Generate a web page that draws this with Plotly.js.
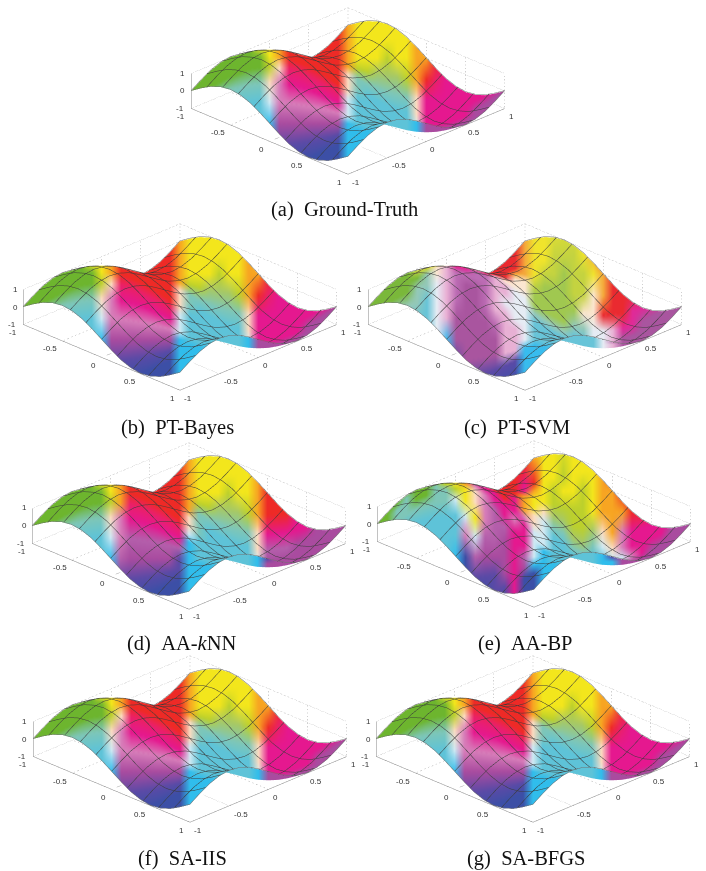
<!DOCTYPE html>
<html>
<head>
<meta charset="utf-8">
<script src="https://cdn.plot.ly/plotly-3.0.1.min.js"></script>
<style>html,body{margin:0;padding:0;background:#fff}#chart{width:706px;height:871px;filter:blur(0.45px)}</style>
</head>
<body>
<div id="chart"></div>
<script>
const gridX = [-1,-0.875,-0.75,-0.625,-0.5,-0.375,-0.25,-0.125,0,0.125,0.25,0.375,0.5,0.625,0.75,0.875,1];
const gridY = [-1,-0.875,-0.75,-0.625,-0.5,-0.375,-0.25,-0.125,0,0.125,0.25,0.375,0.5,0.625,0.75,0.875,1];
const surfaceZ = [
[0,.38,.71,.92,1,.92,.71,.38,0,-.38,-.71,-.92,-1,-.92,-.71,-.38,0],
[.38,.76,1.09,1.30,1.38,1.30,1.09,.76,.38,0,-.33,-.54,-.62,-.54,-.33,0,.38],
[.71,1.09,1.42,1.63,1.71,1.63,1.42,1.09,.71,.33,0,-.21,-.29,-.21,0,.33,.71],
[.92,1.30,1.63,1.84,1.92,1.84,1.63,1.30,.92,.54,.21,0,-.08,0,.21,.54,.92],
[1,1.38,1.71,1.92,2,1.92,1.71,1.38,1,.62,.29,.08,0,.08,.29,.62,1],
[.92,1.30,1.63,1.84,1.92,1.84,1.63,1.30,.92,.54,.21,0,-.08,0,.21,.54,.92],
[.71,1.09,1.42,1.63,1.71,1.63,1.42,1.09,.71,.33,0,-.21,-.29,-.21,0,.33,.71],
[.38,.76,1.09,1.30,1.38,1.30,1.09,.76,.38,0,-.33,-.54,-.62,-.54,-.33,0,.38],
[0,.38,.71,.92,1,.92,.71,.38,0,-.38,-.71,-.92,-1,-.92,-.71,-.38,0],
[-.38,0,.33,.54,.62,.54,.33,0,-.38,-.76,-1.09,-1.30,-1.38,-1.30,-1.09,-.76,-.38],
[-.71,-.33,0,.21,.29,.21,0,-.33,-.71,-1.09,-1.42,-1.63,-1.71,-1.63,-1.42,-1.09,-.71],
[-.92,-.54,-.21,0,.08,0,-.21,-.54,-.92,-1.30,-1.63,-1.84,-1.92,-1.84,-1.63,-1.30,-.92],
[-1,-.62,-.29,-.08,0,-.08,-.29,-.62,-1,-1.38,-1.71,-1.92,-2,-1.92,-1.71,-1.38,-1],
[-.92,-.54,-.21,0,.08,0,-.21,-.54,-.92,-1.30,-1.63,-1.84,-1.92,-1.84,-1.63,-1.30,-.92],
[-.71,-.33,0,.21,.29,.21,0,-.33,-.71,-1.09,-1.42,-1.63,-1.71,-1.63,-1.42,-1.09,-.71],
[-.38,0,.33,.54,.62,.54,.33,0,-.38,-.76,-1.09,-1.30,-1.38,-1.30,-1.09,-.76,-.38],
[0,.38,.71,.92,1,.92,.71,.38,0,-.38,-.71,-.92,-1,-.92,-.71,-.38,0]
];
const meshLines = [-1,-0.8,-0.6,-0.4,-0.2,0,0.2,0.4,0.6,0.8,1];

// Colour tables: one row per level of (x-y), one column per 1/8 step of (x+y) from -2 to 2
const colorLevels = [-2,-1.25,-1,-0.75,-0.5,-0.25,0,0.25,0.5,0.75,1,1.25,1.5,2];
const colorsTruth = [
"GGGGGGGGRRRRRRRROYYYYYYYYYYYYYYYY",
"GGGGGGGYORRRRRRROYYYYYYOORRRRRRRR",
"GGGGGGGYORRRRRRROYYYLYYOORRRRRRRR",
"GGGGGGGYORRRRRRROLLSSSLORNMMMMMMM",
"GGGGGGGLYORRRRRREAAAAAAEMMMMMMMMM",
"GGGGGGGLYORRRRRREATTTTTEMMMMMMMMM",
"GGGGGGGGYORRRRRRETTTTTTWMMMMMPPPP",
"GGGGGGGGLENNNNNNWTTTTTTWMPPPPPPPP",
"AAAAAAAAEKMMMMMMWTTTTTTCPPPPPPPPP",
"TTTTTTTTWKKKKKKKWTTTTTTCPPPPPPPPP",
"TTTTTTTTCPPPPPPPCTTTTTTCPPPPPPPPP",
"TTTTTTTTCUUUUUUUCCTTTTTCPPPPPPPPP",
"TTTTTTTTCBBBBBBBCCCTTTTCPPPPPPPPP",
"TTTTTTTTCBBBBBBBCCCCCCCCPPPPPPPPP"];
const colorsSVM = [
"GGGGGGGGRRRRRRRROYYYYYYYYYYYYYYYY",
"GGGGGGGYORRRRRRROYYLLLYORRRRRRRRR",
"GGGGGYYYORRRRRROOYLLSLLYORRRRRRRR",
"GGGGGYYYORRRRRREELSSSLLEORRRRRRRR",
"GGGGGLYYENNNNKEEESSSSSEERRRMMMMMM",
"GGGGGLLEKMMVVKKWWSSSSAAWWKMMPPPPP",
"GGGGGGAEKVVVVKKWWAAAATTWWKPPPPPPP",
"GGGGGAAWKVPPVKWWWTTTTTTWWKPPPPPPP",
"AAAAAATWKVPPVKKWWTTTTTTTWKPPPPPPP",
"TTTTTTTWKPPPPVKKWTTTTTTTWKPPPPPPP",
"TTTTTTTWCPPPPPKKWTTTTTTTWPPPPPPPP",
"TTTTTTTWCUPPPPKKCCTTTTTTWPPPPPPPP",
"TTTTTTTWCBUUUUUUCCCTTTTTTPPPPPPPP",
"TTTTTTTWCBBBBBBBCCCCCCCCCPPPPPPPP"];
const colorsKNN = [
"GGGGGGGGRRRRRRRROYYYYYYYYYYYYYYYY",
"GGGGGGGYORRRRRRROYYYYYYORRRRRRRRR",
"GGGGGGGYORRRRRRROYYYLYYORRRRRRRRR",
"GGGGGGGYORRRRRRROLLSSSLORRRMMMMMM",
"GGGGGGGLYORRRRRROAAAAAAEMMMMMPPPP",
"GGGGGGGLYORRRRRREATTTTTEVVVPPPPPP",
"GGGGGGGGYORRRRRREATTTTTWPPPPPPPPP",
"GGGGGGGGLONNNNNNWTTTTTTCPPPPPPPPP",
"AAAAAAAAEKMMMMMMCTTTTTTCPPPPPPPPP",
"TTTTTTTTWKVVVVVVCTTTTTTCPPPPPPPPP",
"TTTTTTTTCVPPPPPUCTTTTTTCUPPPPPPPP",
"TTTTTTTTCUUUUUUUCCTTTTTCUPPPPPPPP",
"TTTTTTTTCBBBBBBBCCCTTTTCUPPPPPPPP",
"TTTTTTTTCBBBBBBBCCCCCCCCUPPPPPPPP"];
const colorsBP = [
"GGGGGGGGMRRRMRRROYYYYYYYYYYYYYYYY",
"GGGGGGGYOMMRRRRMRYYLYYYORRRRRRRRR",
"GGGGGGGYOMMRRRRMOYLYYLYOORRRRRRRR",
"GGGGGGAYYMMRRRROYYLLLLYOOORRRMMMM",
"GGAGGGGLYOMMRRMOYESSLLSEOKMMMMMMM",
"GGGAGGALYOKMMRMOEWAASSAWEKMMMMPPP",
"GGAAGGAALYEKMMMKEWTTAATTWWKMPPPPP",
"AGAAAAAAWYEKVMKMWWTTTTTTWKPPPPPPP",
"TAATTTTTTWYKVVMMWWTTTTTCCPPPPPPPP",
"TTTTTTTTTKWVVPMMWCTTTTTCCPPPPPPPP",
"TTTTTTTTCBVPPPMVWCTTTTTCUPPPPPPPP",
"TTTTTTTTCBUUUPMPCCTTTTTCUPPPPPPPP",
"TTTTTTTTCBBBUUMBBCCTTTTCUPPPPPPPP",
"TTTTTTTTCBBBBBMBBCCCCCCCUPPPPPPPP"];

const paletteVivid = {G:"#6db52e",L:"#bcd02c",Y:"#f3e61c",O:"#f7a522",R:"#ee2a26",M:"#e5188f",K:"#d77db9",P:"#a94b9f",B:"#3c4fa6",C:"#30bdec",T:"#5ec3d8",W:"#cfe9f3",E:"#fbdcc0",A:"#7ec6b8",S:"#a5c868",N:"#ea2068",V:"#b45fab",U:"#5b4aa6"};
const paletteSoft  = {G:"#7ab83a",L:"#c4d340",Y:"#f0e42c",O:"#f4a93a",R:"#ea2a30",M:"#e02a98",K:"#e8b0d4",P:"#a9559f",B:"#3c50aa",C:"#38bcee",T:"#68c4d8",W:"#e6ecf4",E:"#fbe6d0",A:"#94c8b8",S:"#a0c850",N:"#e83070",V:"#bc6cb4",U:"#5b4aa6"};

const tickVals = [-1,-0.5,0,0.5,1];
const tickText = ["-1","-0.5","0","0.5","1"];
const zTickVals = [-1,0,1];
const zTickText = ["-1","0","1"];

const panelCaptions = ["(a)\u2002Ground-Truth","(b)\u2002PT-Bayes","(c)\u2002PT-SVM","(d)\u2002AA-<i>k</i>NN","(e)\u2002AA-BP","(f)\u2002SA-IIS","(g)\u2002SA-BFGS"];
const panelColors = [colorsTruth,colorsTruth,colorsSVM,colorsKNN,colorsBP,colorsTruth,colorsTruth];
const panelPalettes = [paletteVivid,paletteVivid,paletteSoft,paletteVivid,paletteVivid,paletteVivid,paletteVivid];
const panelCenterX = [347.5,180,524.6,189.2,534,189.7,532.8];
const panelCenterY = [91,307,307,525.5,524.4,739.4,739.4];
const captionX = [344,177,517,182,525,182,525.5];
const captionY = [210,427,427,643,643,858,858];

const W=706,H=871,SW=344,SH=182;
const EYE=3;
const ZR=2.2;
const ASPECT=2.436;
const SUB=4;
const LINE_LIFT=0.03;

function hex(h){return [parseInt(h.slice(1,3),16),parseInt(h.slice(3,5),16),parseInt(h.slice(5,7),16)];}
function zAt(x,y){
  const fx=Math.min(15.999,(x+1)*8),fy=Math.min(15.999,(y+1)*8);
  const i=Math.floor(fx),j=Math.floor(fy),u=fx-i,v=fy-j;
  return (1-v)*((1-u)*surfaceZ[j][i]+u*surfaceZ[j][i+1])+v*((1-u)*surfaceZ[j+1][i]+u*surfaceZ[j+1][i+1]);
}
function colorAt(table,pal,x,y){
  const s=x+y,d=x-y;
  const fn=Math.min(31.999,(s+2)*8),n=Math.floor(fn),u=fn-n;
  let r=0;while(r<colorLevels.length-2&&d>colorLevels[r+1])r++;
  const v=(d-colorLevels[r])/(colorLevels[r+1]-colorLevels[r]);
  const a=hex(pal[table[r][n]]),b=hex(pal[table[r][n+1]]),c=hex(pal[table[r+1][n]]),e=hex(pal[table[r+1][n+1]]);
  const m=[0,1,2].map(k=>Math.round((1-v)*((1-u)*a[k]+u*b[k])+v*((1-u)*c[k]+u*e[k])));
  return "rgb("+m.join(",")+")";
}
function lineTrace(scene,xs,ys,zs,color,dash,width){
  return {type:"scatter3d",mode:"lines",scene,x:xs,y:ys,z:zs,hoverinfo:"skip",showlegend:false,
    line:{color,width:width||1,dash:dash||"solid"}};
}

const data=[],layout={width:W,height:H,margin:{l:0,r:0,t:0,b:0},paper_bgcolor:"#fff",showlegend:false,annotations:[]};
const fine=[];for(let q=0;q<=16*SUB;q++)fine.push(-1+q/(8*SUB));

panelCaptions.forEach((cap,p)=>{
  const scene=p===0?"scene":"scene"+(p+1);
  const vx=[],vy=[],vz=[],vc=[],ti=[],tj=[],tk=[];
  const nf=fine.length;
  for(let j=0;j<nf;j++)for(let i=0;i<nf;i++){
    vx.push(fine[i]);vy.push(fine[j]);vz.push(zAt(fine[i],fine[j]));
    vc.push(colorAt(panelColors[p],panelPalettes[p],fine[i],fine[j]));
  }
  for(let j=0;j<nf-1;j++)for(let i=0;i<nf-1;i++){
    const a=j*nf+i,b=a+1,c=a+nf,d=c+1;
    ti.push(a,b);tj.push(b,d);tk.push(c,c);
  }
  data.push({type:"mesh3d",scene,x:vx,y:vy,z:vz,i:ti,j:tj,k:tk,vertexcolor:vc,hoverinfo:"skip",showscale:false,
    flatshading:false,lighting:{ambient:1,diffuse:0,specular:0,roughness:1,fresnel:0}});
  meshLines.forEach(c=>{
    const col=Math.abs(c)===1?"#707070":"#3a3a3a";
    data.push(lineTrace(scene,fine,fine.map(()=>c),fine.map(t=>zAt(t,c)+LINE_LIFT),col));
    data.push(lineTrace(scene,fine.map(()=>c),fine,fine.map(t=>zAt(c,t)+LINE_LIFT),col));
  });
  const G="#a0a0a0",A="#858585";
  tickVals.forEach(v=>{
    data.push(lineTrace(scene,[-1,-1],[v,v],[-1,1],G,"dot"));
    data.push(lineTrace(scene,[v,v],[1,1],[-1,1],G,"dot"));
  });
  zTickVals.forEach(v=>{
    data.push(lineTrace(scene,[-1,-1],[-1,1],[v,v],G,"dot"));
    data.push(lineTrace(scene,[-1,1],[1,1],[v,v],G,"dot"));
  });
  data.push(lineTrace(scene,[-0.5,-0.5],[-1,-0.5],[-1,-1],G,"dot"));
  data.push(lineTrace(scene,[0,0],[-1,-0.78],[-1,-1],G,"dot"));
  data.push(lineTrace(scene,[-1,-0.5],[-0.5,-0.5],[-1,-1],G,"dot"));
  data.push(lineTrace(scene,[0.67,1],[-0.5,-0.5],[-1,-1],G,"dot"));
  data.push(lineTrace(scene,[0.5,1],[0,0],[-1,-1],G,"dot"));
  data.push(lineTrace(scene,[-1,1],[-1,-1],[-1,-1],A));
  data.push(lineTrace(scene,[1,1],[-1,1],[-1,-1],A));
  data.push(lineTrace(scene,[-1,-1],[-1,-1],[-1,1],A));

  const ann=[];
  const tick=(x,y,z,text,dx,dy)=>ann.push({x,y,z,text,showarrow:false,xshift:dx,yshift:-dy,xanchor:"center",yanchor:"middle",
    font:{family:"Liberation Sans, Arial, sans-serif",size:8,color:"#333"}});
  const xdx=[-10,-12,-8,-11,-8],ydx=[8,12,7,9,7];
  tickVals.forEach((v,k)=>{
    tick(v,-1,-1,tickText[k],xdx[k],8);
    tick(1,v,-1,tickText[k],ydx[k],8);
  });
  zTickVals.forEach((v,k)=>tick(-1,-1,v,zTickText[k],v<0?-11:-8,0));

  layout[scene]={
    domain:{x:[(panelCenterX[p]-SW/2)/W,(panelCenterX[p]+SW/2)/W],y:[1-(panelCenterY[p]+SH/2)/H,1-(panelCenterY[p]-SH/2)/H]},
    bgcolor:"rgba(0,0,0,0)",
    xaxis:{visible:false,range:[-1,1],autorange:false},
    yaxis:{visible:false,range:[-1,1],autorange:false},
    zaxis:{visible:false,range:[-ZR,ZR],autorange:false},
    aspectmode:"manual",aspectratio:{x:ASPECT,y:ASPECT,z:0.383*ASPECT},
    camera:{eye:{x:EYE,y:-EYE,z:0.653*EYE},center:{x:0,y:0,z:0},up:{x:0,y:0,z:1},projection:{type:"orthographic"}},
    annotations:ann
  };
  layout.annotations.push({xref:"paper",yref:"paper",x:captionX[p]/W,y:1-captionY[p]/H,text:cap,showarrow:false,xanchor:"center",yanchor:"middle",
    font:{family:"Liberation Serif, Times New Roman, serif",size:20.5,color:"#111"}});
});
Plotly.newPlot("chart",data,layout,{displayModeBar:false,responsive:false});
</script>
</body>
</html>
